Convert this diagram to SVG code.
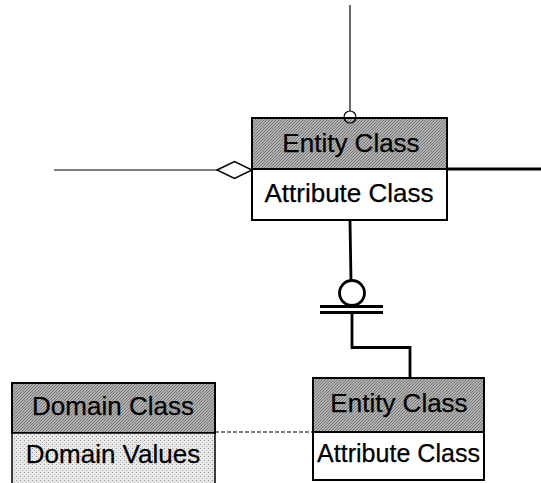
<svg xmlns="http://www.w3.org/2000/svg" width="541" height="483" viewBox="0 0 541 483">
  <defs>
    <!-- dense hatching for class headers -->
    <pattern id="hatch" width="3" height="3" patternUnits="userSpaceOnUse">
      <rect width="3" height="3" fill="#b0b0b0"/>
      <path d="M0,3 L3,0" stroke="#6a6a6a" stroke-width="0.8"/>
    </pattern>
    <!-- light stipple for domain values -->
    <pattern id="stipple" width="4" height="4" patternUnits="userSpaceOnUse">
      <rect width="4" height="4" fill="#e8e8e8"/>
      <rect x="0" y="0" width="1" height="1" fill="#969696"/>
      <rect x="2" y="2" width="1" height="1" fill="#b4b4b4"/>
    </pattern>
  </defs>
  <style>
    .hdr { fill: url(#hatch); stroke: #000; stroke-width: 2; }
    .body { fill: #fff; stroke: #000; stroke-width: 2; }
    .dom { fill: url(#stipple); stroke: #000; stroke-width: 1.5; }
    .lbl { font-family: "Liberation Sans", Arial, sans-serif; font-size: 26px; fill: #000; stroke: #000; stroke-width: 0.25; text-anchor: middle; }
    .thin { fill: none; stroke: #000; stroke-width: 1.2; }
    .thick { fill: none; stroke: #000; stroke-width: 2.8; }
    .dash { fill: none; stroke: #000; stroke-width: 1.2; stroke-dasharray: 4 2; }
  </style>
  <rect width="541" height="483" fill="#fff"/>

  <g id="entity-top">
    <rect class="hdr" x="252" y="118" width="195" height="51"/>
    <rect class="body" x="252" y="169" width="195" height="51"/>
    <text class="lbl" x="351" y="152">Entity Class</text>
    <text class="lbl" x="349" y="202">Attribute Class</text>
  </g>

  <g id="entity-bottom">
    <rect class="hdr" x="313" y="378" width="171" height="54"/>
    <rect class="body" x="313" y="432" width="171" height="48"/>
    <text class="lbl" x="399" y="412">Entity Class</text>
    <text class="lbl" x="398.5" y="462" textLength="163" lengthAdjust="spacingAndGlyphs">Attribute Class</text>
  </g>

  <g id="domain">
    <rect class="hdr" x="12" y="383" width="203" height="50"/>
    <rect class="dom" x="12" y="433" width="203" height="60"/>
    <text class="lbl" x="113" y="415">Domain Class</text>
    <text class="lbl" x="113" y="463">Domain Values</text>
  </g>

  <g id="connectors">
    <!-- line entering from above, ending in a small circle -->
    <line class="thin" x1="350" y1="5" x2="350" y2="111"/>
    <circle cx="350" cy="117" r="6" fill="none" stroke="#000" stroke-width="1.2"/>
    <!-- aggregation from the left with hollow diamond -->
    <line class="thin" x1="54" y1="170" x2="217" y2="170"/>
    <polygon points="217,170 234.5,161.5 252,170 234.5,178.5" fill="#fff" stroke="#000" stroke-width="1.4"/>
    <!-- line leaving to the right -->
    <line class="thick" x1="447" y1="169" x2="541" y2="169"/>
    <!-- relationship between the two entity classes -->
    <polyline class="thick" points="350,221 351,281"/>
    <circle cx="352" cy="293" r="12.5" fill="#fff" stroke="#000" stroke-width="2.8"/>
    <line class="thick" x1="320" y1="306.5" x2="383" y2="306.5"/>
    <line class="thick" x1="320" y1="312.5" x2="383" y2="312.5"/>
    <polyline class="thick" points="352,312.5 352,347.5 410,347.5 410,377"/>
    <!-- domain link -->
    <line class="dash" x1="215" y1="432" x2="313" y2="432"/>
  </g>
</svg>
